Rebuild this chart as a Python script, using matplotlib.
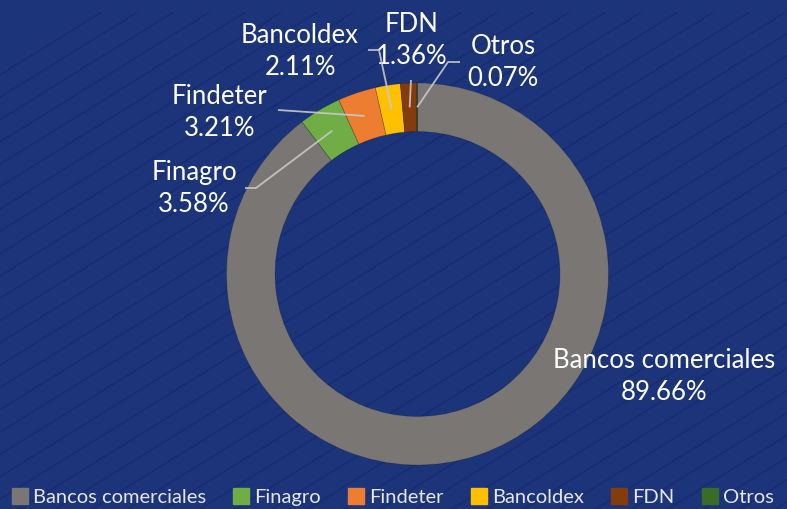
import numpy as np
import matplotlib
matplotlib.use("Agg")
import matplotlib.pyplot as plt
from matplotlib.lines import Line2D

# Participación por tipo de entidad
labels = ["Bancos comerciales", "Finagro", "Findeter", "Bancoldex", "FDN", "Otros"]
values = [89.66, 3.58, 3.21, 2.11, 1.36, 0.07]
colors = ["#7a7674", "#70ad47", "#ed7d31", "#ffc000", "#843c0c", "#3a6b27"]

W, H = 787, 509
bg = "#1c3479"
plt.rcParams['font.family'] = ['Lato', 'DejaVu Sans']

fig = plt.figure(figsize=(W / 100, H / 100), dpi=100, facecolor=bg)
ax = fig.add_axes([0, 0, 1, 1])

# diagonal texture
for x0 in np.arange(-700, W + 100, 36):
    ax.plot([x0, x0 + 800], [0, 800 * 0.62], color="#13276a", lw=1.1, alpha=0.55, zorder=0)

cx, cy, R = 417.5, H - 274, 191
ring = 0.254
wedges, _ = ax.pie(values, colors=colors, startangle=90, counterclock=False,
                   center=(cx, cy), radius=R, frame=True,
                   wedgeprops=dict(width=R * ring, edgecolor="#00000030", linewidth=0.6))
ax.set_xlim(0, W)
ax.set_ylim(0, H)
ax.set_aspect('equal')
ax.axis('off')

# label positions (pixel coords from top) and elbow point of leader lines
label_pos = {
    "Bancos comerciales": (664, 377, None),
    "Finagro": (194, 188, (245, 188, 256)),
    "Findeter": (220, 112, (278, 110, 278)),
    "Bancoldex": (300, 51, (368, 50, 379)),
    "FDN": (412, 40, (411, 80, 411)),
    "Otros": (503, 62, (460, 62, 448)),
}

rmid = R * (1 - ring / 2)
cum = 0
for lab, v in zip(labels, values):
    mid = np.deg2rad(90 - 360 * (cum + v / 2) / sum(values))
    cum += v
    tx, ty, elbow = label_pos[lab]
    ax.text(tx, H - ty, f"{lab}\n{v:.2f}%", ha='center', va='center', color='white',
            fontsize=18.5, linespacing=1.35, zorder=5)
    if elbow is not None:
        ex0, ey, ex1 = elbow
        px, py = cx + rmid * np.cos(mid), cy + rmid * np.sin(mid)
        ax.plot([ex0, ex1, px], [H - ey, H - ey, py], color="#c9c9c9", lw=1.3,
                alpha=0.9, zorder=6, solid_capstyle='butt')

handles = [Line2D([], [], marker='s', ls='', markersize=11, markerfacecolor=c,
                  markeredgecolor=c) for c in colors]
leg = fig.legend(handles, labels, loc='center', bbox_to_anchor=(0.5, 1 - 497 / H),
                 ncol=6, frameon=False, fontsize=14.5, handlelength=0.7, handletextpad=0.3,
                 columnspacing=1.4, labelcolor="#e6e6e6", borderaxespad=0, borderpad=0)

fig.savefig("out.png", dpi=100, facecolor=bg)
